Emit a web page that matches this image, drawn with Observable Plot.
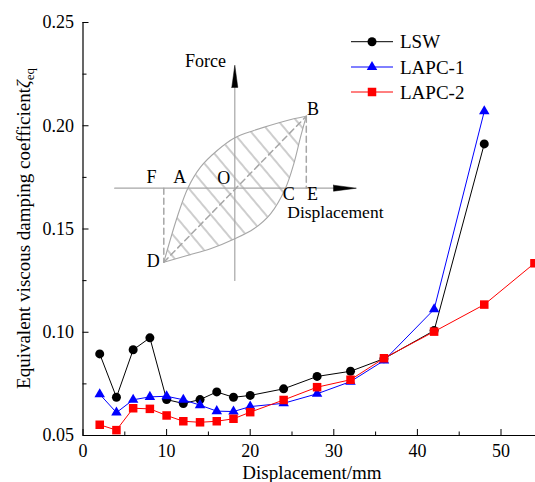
<!DOCTYPE html>
<html>
<head>
<meta charset="utf-8">
<script src="https://cdn.jsdelivr.net/npm/d3@7"></script>
<script src="https://cdn.jsdelivr.net/npm/@observablehq/plot@0.6"></script>
<style>
  html, body { margin: 0; padding: 0; background: white; }
  #wrap { position: relative; width: 535px; height: 482px; overflow: hidden; }
  #inset { position: absolute; left: 100px; top: 50px; }
</style>
</head>
<body>
<div id="wrap"><div id="main"></div><div id="inset"></div></div>
<script>
// ---------------- data ----------------
const displacement = [2, 4, 6, 8, 10, 12, 14, 16, 18, 20, 24, 28, 32, 36, 42, 48];
const displacementLAPC2 = [2, 4, 6, 8, 10, 12, 14, 16, 18, 20, 24, 28, 32, 36, 42, 48, 54];
const seriesNames = ["LSW", "LAPC-1", "LAPC-2"];
const lswValues = [0.0895, 0.0685, 0.0915, 0.0973, 0.0674, 0.0655, 0.0674, 0.0711, 0.0685, 0.0694, 0.0726, 0.0786, 0.0811, 0.0872, 0.1008, 0.1912];
const lapc1Values = [0.0700, 0.0611, 0.0673, 0.0687, 0.0690, 0.0673, 0.0647, 0.0618, 0.0616, 0.0640, 0.0656, 0.0702, 0.0761, 0.0863, 0.1111, 0.2070];
const lapc2Values = [0.0552, 0.0526, 0.0632, 0.0629, 0.0597, 0.0569, 0.0564, 0.0569, 0.0581, 0.0613, 0.0672, 0.0734, 0.0770, 0.0874, 0.1003, 0.1134, 0.1334];
const xTicks = [0, 10, 20, 30, 40, 50];
const xMinorTicks = [5, 15, 25, 35, 45];
const yTicks = [0.05, 0.10, 0.15, 0.20, 0.25];
const yMinorTicks = [0.075, 0.125, 0.175, 0.225];
const xTitle = "Displacement/mm";
const yTitle = "Equivalent viscous damping coefficient";

// inset schematic (unitless Force–Displacement sketch)
const loopUpper = [[-0.993,-1.035],[-0.806,-0.406],[-0.657,0],[-0.48,0.294],[-0.246,0.527],[0,0.705],[0.266,0.807],[0.593,0.909],[0.825,0.971],[1,1.007]];
const loopLower = [[-0.993,-1.035],[-0.666,-0.941],[-0.34,-0.848],[0,-0.708],[0.266,-0.568],[0.5,-0.358],[0.709,0],[0.825,0.341],[0.919,0.713],[1,1.007]];
const insetPointLabels = [
  {t: "O", x: -0.155, y: 0.14},
  {t: "A", x: -0.771, y: 0.154},
  {t: "F", x: -1.165, y: 0.149},
  {t: "B", x: 1.095, y: 1.109},
  {t: "C", x: 0.754, y: -0.09},
  {t: "E", x: 1.085, y: -0.09},
  {t: "D", x: -1.141, y: -1.02}
];
const insetAxisLabels = [
  {t: "Force", x: -0.411, y: 1.77, a: "middle"},
  {t: "Displacement", x: 0.734, y: -0.345, a: "start"}
];

// ---------------- main chart ----------------
const W = 535, H = 482, ML = 82.5, MR = 0, MT = 22, MB = 47;
const FW = W - ML - MR, FH = H - MT - MB;
const series = [
  {name: seriesNames[0], xs: displacement, ys: lswValues, color: "#000000", symbol: "circle", r: 4.5},
  {name: seriesNames[1], xs: displacement, ys: lapc1Values, color: "#0000ff", symbol: "triangle", r: 3.9},
  {name: seriesNames[2], xs: displacementLAPC2, ys: lapc2Values, color: "#ff0000", symbol: "square", r: 4.8}
];
const seriesMarks = [];
for (const s of series) {
  const data = s.xs.map((x, i) => ({x, y: s.ys[i]}));
  seriesMarks.push(Plot.line(data, {x: "x", y: "y", stroke: s.color, strokeWidth: 1}));
  seriesMarks.push(Plot.dot(data, {x: "x", y: "y", symbol: s.symbol, r: s.r, fill: s.color, stroke: "none"}));
}
const font = "Liberation Serif, Times New Roman, serif";
const main = Plot.plot({
  width: W, height: H, marginLeft: ML, marginRight: MR, marginTop: MT, marginBottom: MB,
  style: {fontFamily: font, fontSize: "18px", background: "white", color: "black"},
  x: {domain: [0, (W - ML) / 8.36]},
  y: {domain: [0.05, 0.25]},
  marks: [
    Plot.ruleX(xTicks, {insetTop: FH - 6, stroke: "black"}),
    Plot.ruleX(xMinorTicks, {insetTop: FH - 3.5, stroke: "black"}),
    Plot.ruleY(yTicks, {insetRight: FW - 6, stroke: "black"}),
    Plot.ruleY(yMinorTicks, {insetRight: FW - 4, stroke: "black"}),
    Plot.ruleX([0], {stroke: "black", strokeWidth: 1.2}),
    Plot.ruleY([0.05], {stroke: "black", strokeWidth: 1.2}),
    Plot.axisX({ticks: xTicks, tickSize: 0, tickPadding: 9, label: null, fontSize: 18, fontFamily: font}),
    Plot.axisY({ticks: yTicks, tickSize: 0, tickPadding: 9, tickFormat: d3.format(".2f"), label: null, fontSize: 18, fontFamily: font}),
    ...seriesMarks
  ]
});
main.setAttribute("font-family", font);
document.getElementById("main").appendChild(main);

const svg = d3.select(main);
// axis titles
svg.append("text").attr("x", 312).attr("y", 479).attr("text-anchor", "middle")
  .attr("font-size", 19).attr("font-family", font).attr("fill", "black").text(xTitle);
const yl = svg.append("text").attr("transform", "translate(30,228.5) rotate(-90)")
  .attr("text-anchor", "middle").attr("font-size", 19).attr("font-family", font).attr("fill", "black");
yl.append("tspan").text(yTitle);
yl.append("tspan").attr("font-style", "italic").text("ζ");
yl.append("tspan").attr("font-size", 13).attr("dy", 4).text("eq");

// legend
const legendRows = [41.7, 67, 92];
const symMap = {circle: d3.symbolCircle, triangle: d3.symbolTriangle, square: d3.symbolSquare};
series.forEach((s, i) => {
  const g = svg.append("g").attr("transform", `translate(0,${legendRows[i]})`);
  g.append("line").attr("x1", 351).attr("x2", 393).attr("y1", 0).attr("y2", 0).attr("stroke", s.color).attr("stroke-width", 1);
  g.append("path").attr("transform", "translate(372,0)")
    .attr("d", d3.symbol(symMap[s.symbol], Math.PI * s.r * s.r)()).attr("fill", s.color);
  g.append("text").attr("x", 400).attr("y", 0).attr("dy", "0.35em").attr("font-size", 19)
    .attr("text-anchor", "start").attr("font-family", font).attr("fill", "black").text(s.name);
});

// ---------------- inset schematic ----------------
const IW = 300, IH = 240, U = 71.5, OX = 134.3, OY = 137.7; // origin inside inset (px)
const toPt = ([x, y]) => ({x, y});
const loopFill = [...loopUpper, ...loopLower.slice(0, -1).reverse()].map(toPt);
const gray = "#a6a6a6";
const inset = Plot.plot({
  width: IW, height: IH, margin: 0,
  style: {fontFamily: font, fontSize: "18px", background: "transparent", overflow: "visible"},
  x: {domain: [-OX / U, (IW - OX) / U], axis: null},
  y: {domain: [-(IH - OY) / U, OY / U], axis: null},
  marks: [
    Plot.line(loopFill, {x: "x", y: "y", fill: "url(#hatch)", stroke: "none"}),
    // axes
    Plot.line([{x: -1.68, y: 0}, {x: 1.42, y: 0}], {x: "x", y: "y", stroke: gray, strokeWidth: 1.2}),
    Plot.line([{x: 0, y: -1.29}, {x: 0, y: 1.45}], {x: "x", y: "y", stroke: gray, strokeWidth: 1.2}),
    // dashed helpers
    Plot.line([loopUpper[0], loopUpper[loopUpper.length - 1]].map(toPt), {x: "x", y: "y", stroke: gray, strokeDasharray: "6,4"}),
    Plot.line([{x: 1, y: 1.007}, {x: 1, y: 0}], {x: "x", y: "y", stroke: gray, strokeDasharray: "6,4"}),
    Plot.line([{x: -0.993, y: 0}, {x: -0.993, y: -1.035}], {x: "x", y: "y", stroke: gray, strokeDasharray: "6,4"}),
    // loop outline
    Plot.line(loopUpper.map(toPt), {x: "x", y: "y", curve: "catmull-rom", stroke: gray, strokeWidth: 1.1}),
    Plot.line(loopLower.map(toPt), {x: "x", y: "y", curve: "catmull-rom", stroke: gray, strokeWidth: 1.1}),
    // arrow heads
    Plot.line([{x: 1.38, y: 0.042}, {x: 1.70, y: 0}, {x: 1.38, y: -0.042}, {x: 1.38, y: 0.042}], {x: "x", y: "y", fill: "black", stroke: "black", strokeWidth: 0.5}),
    Plot.line([{x: -0.042, y: 1.41}, {x: 0, y: 1.72}, {x: 0.042, y: 1.41}, {x: -0.042, y: 1.41}], {x: "x", y: "y", fill: "black", stroke: "black", strokeWidth: 0.5}),
    // labels
    Plot.text(insetPointLabels, {x: "x", y: "y", text: "t", textAnchor: "middle", fill: "black", fontSize: 18, fontFamily: font}),
    Plot.text(insetAxisLabels.filter(d => d.a === "middle"), {x: "x", y: "y", text: "t", textAnchor: "middle", fill: "black", fontSize: 18, fontFamily: font}),
    Plot.text(insetAxisLabels.filter(d => d.a === "start"), {x: "x", y: "y", text: "t", textAnchor: "start", fill: "black", fontSize: 17.5, fontFamily: font})
  ]
});
inset.setAttribute("font-family", font);
document.getElementById("inset").appendChild(inset);
const defs = d3.select(inset).insert("defs", ":first-child");
const pat = defs.append("pattern").attr("id", "hatch").attr("patternUnits", "userSpaceOnUse")
  .attr("width", 14).attr("height", 14).attr("patternTransform", "rotate(-40)");
pat.append("line").attr("x1", 7).attr("x2", 7).attr("y1", 0).attr("y2", 14).attr("stroke", "#9c9c9c").attr("stroke-width", 1);
</script>
</body>
</html>
